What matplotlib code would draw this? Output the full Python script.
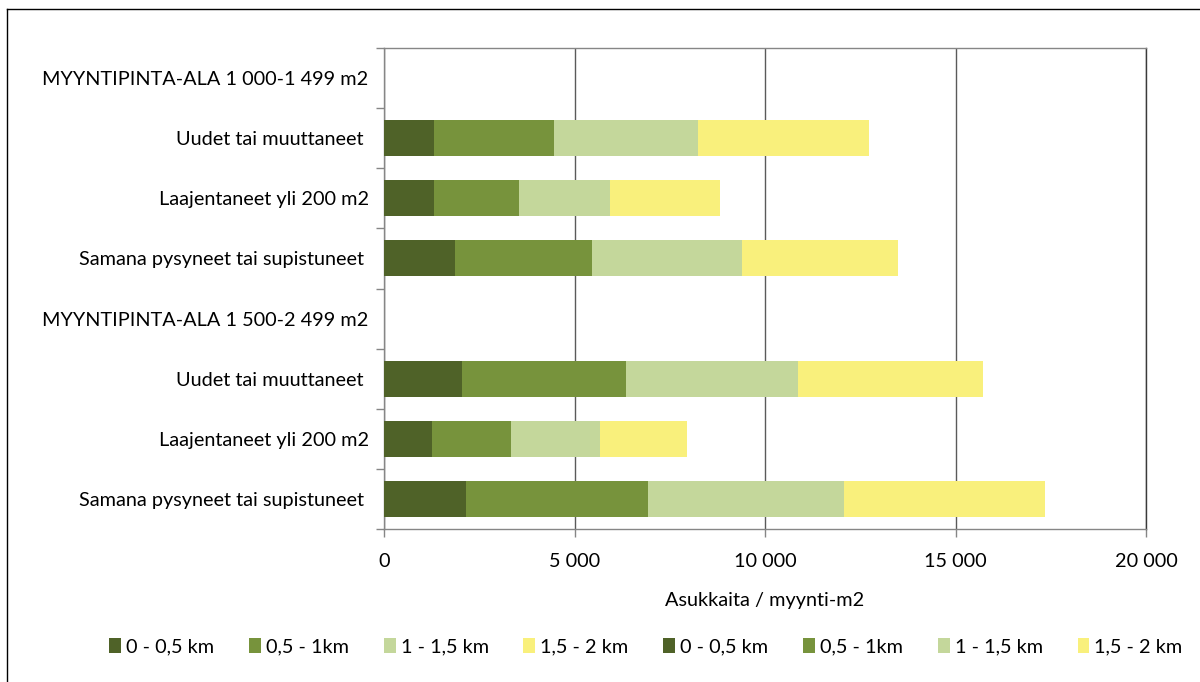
import matplotlib
matplotlib.use("Agg")
import matplotlib.pyplot as plt
from matplotlib.patches import Patch
from matplotlib.lines import Line2D
import numpy as np

plt.rcParams['font.family'] = ['Lato', 'DejaVu Sans']

# Row labels, top to bottom
categories = [
    "MYYNTIPINTA-ALA 1 000-1 499 m2",
    "Uudet tai muuttaneet ",
    "Laajentaneet yli 200 m2",
    "Samana pysyneet tai supistuneet ",
    "MYYNTIPINTA-ALA 1 500-2 499 m2",
    "Uudet tai muuttaneet ",
    "Laajentaneet yli 200 m2",
    "Samana pysyneet tai supistuneet ",
]

series_names = ["0 - 0,5 km", "0,5 - 1km", "1 - 1,5 km", "1,5 - 2 km"]

# Store size 1 000-1 499 m2: Uudet, Laajentaneet, Samana
small_0_05 = [1310, 1310, 1860]
small_05_1 = [3150, 2230, 3600]
small_1_15 = [3790, 2390, 3940]
small_15_2 = [4490, 2890, 4080]

# Store size 1 500-2 499 m2: Uudet, Laajentaneet, Samana
large_0_05 = [2050, 1260, 2140]
large_05_1 = [4300, 2080, 4790]
large_1_15 = [4520, 2330, 5140]
large_15_2 = [4860, 2270, 5270]

colors = ["#4f6228", "#77933c", "#c4d79b", "#f9f07c"]

xticks = [0, 5000, 10000, 15000, 20000]
xtick_labels = ["0", "5 000", "10 000", "15 000", "20 000"]

FS = 14.3

fig = plt.figure(figsize=(12, 6.82), dpi=100)
ax = fig.add_axes([384 / 1200, 1 - 529 / 682, (1146 - 384) / 1200, (529 - 48) / 682])

ypos = np.arange(len(categories))
small_rows = ypos[1:4]
large_rows = ypos[5:8]

handles = []
for group_rows, group in ((small_rows, [small_0_05, small_05_1, small_1_15, small_15_2]),
                          (large_rows, [large_0_05, large_05_1, large_1_15, large_15_2])):
    left = np.zeros(len(group_rows))
    for vals, col, name in zip(group, colors, series_names):
        vals = np.array(vals, dtype=float)
        ax.barh(group_rows, vals, left=left, height=0.6, color=col,
                edgecolor="none", zorder=3)
        left += vals
        handles.append(Patch(facecolor=col, edgecolor="none", label=name))

ax.set_xlim(0, 20000)
ax.set_ylim(7.5, -0.5)

ax.set_xticks(xticks)
ax.set_xticklabels(xtick_labels, fontsize=FS)
ax.tick_params(axis="x", direction="out", length=6, width=1, color="#868686", pad=11)

ax.set_yticks(ypos)
ax.set_yticklabels(categories, fontsize=FS)
ax.tick_params(axis="y", which="major", length=0, pad=11)
ax.set_yticks(np.arange(-0.5, 8.0, 1.0), minor=True)
ax.tick_params(axis="y", which="minor", direction="out", length=6, width=1, color="#868686")

ax.grid(axis="x", color="#5a5a5a", linewidth=1, zorder=1)
ax.set_axisbelow(True)
for side in ("left", "bottom", "top"):
    ax.spines[side].set_color("#868686")
    ax.spines[side].set_linewidth(1)
ax.spines["right"].set_color("#3a3a3a")
ax.spines["right"].set_linewidth(1)

ax.set_xlabel("Asukkaita / myynti-m2", fontsize=FS, labelpad=16)

fig.legend(handles=handles, loc="center", bbox_to_anchor=(646 / 1200, 1 - 647 / 682),
           ncol=8, frameon=False, fontsize=FS, handlelength=0.6, handleheight=0.75,
           handletextpad=0.25, columnspacing=1.75, borderaxespad=0)

# Outer chart frame
fig.add_artist(Line2D([7 / 1200, 7 / 1200], [0, 1 - 9 / 682], transform=fig.transFigure,
                      color="black", linewidth=1))
fig.add_artist(Line2D([7 / 1200, 1], [1 - 9 / 682, 1 - 9 / 682], transform=fig.transFigure,
                      color="black", linewidth=1))

fig.savefig("out.png", dpi=100)
